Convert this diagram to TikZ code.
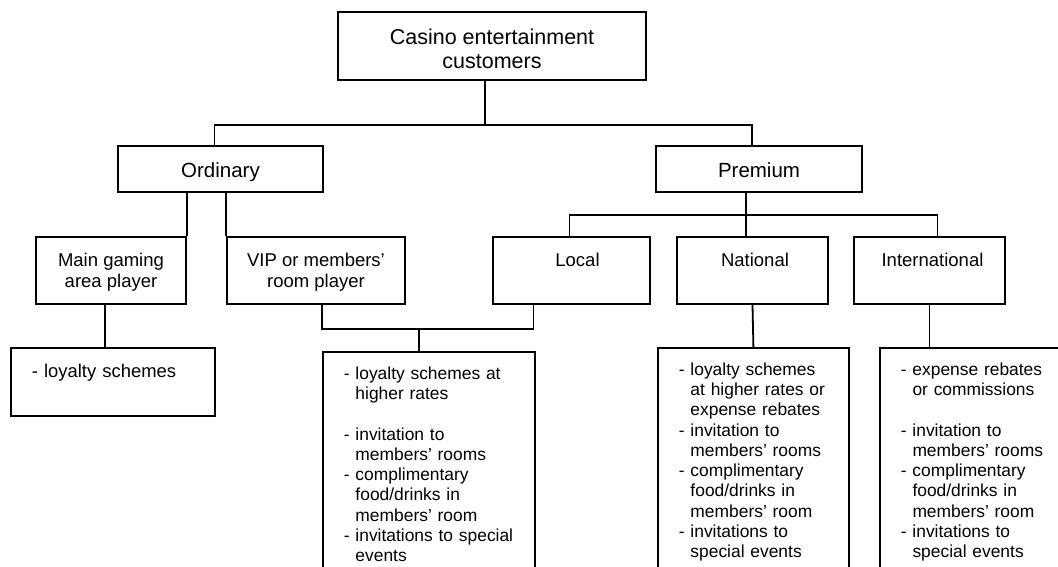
\documentclass[tikz,border=0pt]{standalone}
\usepackage{fontspec}
\setmainfont{Liberation Sans}
\newcommand{\ind}{\hphantom{-\ }}
\newcommand{\drop}[1]{\rule[-#1]{0pt}{0pt}}
\newcommand{\hi}[1]{\rule{0pt}{#1}}
\begin{document}
\begin{tikzpicture}[x=1pt,y=-1pt,line width=1.8pt,
  box/.style={draw,rectangle,align=center,inner sep=0pt},
  group/.style={box,minimum width=#1,minimum height=46pt,text height=23pt,text depth=5pt,font=\fontsize{20.5}{24}\selectfont},
  kind/.style={box,minimum width=#1,minimum height=67pt,font=\fontsize{18.5}{21}\selectfont},
  perks/.style={draw,rectangle,anchor=north west,align=left,text width=#1,
    inner xsep=21pt,inner ysep=13pt,font=\fontsize{17.4}{20.3}\selectfont}]
\path[use as bounding box,clip] (0,0) rectangle (1058,567);

% top of the tree
\node[box,minimum width=308pt,minimum height=68pt,font=\fontsize{21.5}{24}\selectfont] (root) at (492,46) {\hi{22pt}Casino entertainment\\customers};
\node[group=205pt] (ord) at (220.5,169) {Ordinary};
\node[group=206pt] (prem) at (759,169) {Premium};

% kinds of player
\node[kind=150pt] (main) at (111,270.5) {\hi{19pt}Main gaming\\area player\strut};
\node[kind=178pt] (vip) at (316,270.5) {\hi{19pt}VIP or members'\\room player\strut};
\node[kind=157pt] (local) at (571.5,270.5) {\hi{19pt}\hspace{12pt}Local\\\strut};
\node[kind=151pt] (natl) at (752.5,270.5) {\hi{19pt}\hspace{5pt}National\\\strut};
\node[kind=151pt] (intl) at (929.5,270.5) {\hi{19pt}\hspace{6pt}International\\\strut};

% what each one gets
\node[perks=162pt,inner ysep=15pt,font=\fontsize{18.4}{21}\selectfont] (loy) at (10,347) {\strut- loyalty schemes\drop{23.3pt}};
\node[perks=170pt] (vipb) at (322,351) {\strut- loyalty schemes at\\
\ind higher rates\\[20.3pt]
- invitation to\\
\ind members' rooms\\
- complimentary\\
\ind food/drinks in\\
\ind members' room\\
- invitations to special\\
\ind events\drop{200pt}};
\node[perks=149pt] (natb) at (657,347) {\strut- loyalty schemes\\
\ind at higher rates or\\
\ind expense rebates\\
- invitation to\\
\ind members' rooms\\
- complimentary\\
\ind food/drinks in\\
\ind members' room\\
- invitations to\\
\ind special events\drop{200pt}};
\node[perks=145pt] (intb) at (879,347) {\strut- expense rebates\\
\ind or commissions\\[20.3pt]
- invitation to\\
\ind members' rooms\\
- complimentary\\
\ind food/drinks in\\
\ind members' room\\
- invitations to\\
\ind special events\drop{200pt}};

% connectors
\draw ([xshift=-7pt]root.south) -- ++(0,44) coordinate (rj);
\draw ([xshift=-6pt]ord.north) |- (rj) -| ([xshift=-7pt]prem.north);
\draw (main.north east) -- (main.north east |- ord.south);
\draw (vip.north west) -- (vip.north west |- ord.south);
\draw ([xshift=-13pt]prem.south) -- ++(0,22) coordinate (pj);
\draw ([xshift=-2pt]local.north) |- (pj) -| ([xshift=8pt]intl.north);
\draw (pj) -- (pj |- natl.north);
\draw ([xshift=-6pt]main.south) coordinate (m1) -- (m1 |- loy.north);
\draw ([xshift=6pt]vip.south) -- ++(0,24) coordinate (vj) -| ([xshift=-38pt]local.south);
\draw ([xshift=-10pt]vipb.north) coordinate (v1) -- (v1 |- vj);
\draw (natl.south) -- (natb.north);
\draw (intl.south) -- (intl.south |- intb.north);
\end{tikzpicture}
\end{document}
